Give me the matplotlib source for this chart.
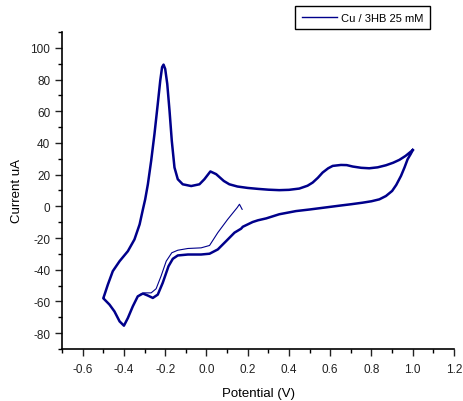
import matplotlib.pyplot as plt
from matplotlib.ticker import MultipleLocator

plt.rcParams['font.family'] = ['Liberation Sans', 'DejaVu Sans']
plt.rcParams['axes.unicode_minus'] = False

# --- dados lidos do voltamograma ---
# primeira varredura (linha fina), de 0.173 V para o catodo
pot_ini = [0.173, 0.160, 0.149, 0.103, 0.055, 0.015, -0.026, -0.090, -0.139, -0.168,
           -0.195, -0.220, -0.244, -0.268, -0.300, -0.324]
cor_ini = [-1.9, 1.3, -0.8, -8.2, -16.6, -24.7, -26.2, -26.6, -27.7, -29.3,
           -34.6, -44.0, -52.0, -54.6, -54.6, -55.7]

# ciclo completo (linha grossa), comeca no vertice de 1.0 V
pot_ciclo = [1.000, 0.990, 0.975, 0.960, 0.943, 0.920, 0.900, 0.870, 0.838, 0.800,
             0.757, 0.700, 0.650, 0.596, 0.500, 0.434, 0.353, 0.290, 0.250, 0.224,
             0.176, 0.168, 0.136, 0.095, 0.055, 0.015, -0.026, -0.090, -0.139, -0.163,
             -0.184, -0.212, -0.236, -0.260, -0.284, -0.308, -0.333, -0.357, -0.381,
             -0.400, -0.421, -0.446, -0.470, -0.497, -0.500,
             -0.494, -0.478, -0.454, -0.421, -0.381, -0.349, -0.324, -0.308, -0.297,
             -0.284, -0.268, -0.252, -0.236, -0.224, -0.215, -0.208, -0.200, -0.190,
             -0.179, -0.168, -0.155, -0.139, -0.115, -0.074, -0.034, -0.010, 0.019,
             0.047, 0.084, 0.111, 0.150, 0.200, 0.250, 0.300, 0.353, 0.400, 0.450,
             0.490, 0.515, 0.540, 0.563, 0.590, 0.612, 0.652, 0.680, 0.709, 0.750,
             0.789, 0.830, 0.870, 0.905, 0.935, 0.965, 1.000]
cor_ciclo = [35.5, 33.0, 29.7, 24.5, 19.2, 13.5, 9.7, 6.5, 4.4, 3.2,
             2.3, 1.3, 0.5, -0.4, -2.0, -3.0, -5.0, -7.6, -8.8, -9.9,
             -12.9, -14.1, -16.6, -22.0, -27.2, -29.9, -30.4, -30.4, -31.0, -33.1,
             -37.8, -48.3, -55.7, -57.8, -56.3, -55.0, -56.8, -63.1, -70.5,
             -75.3, -72.6, -66.3, -62.0, -58.4, -58.0,
             -55.7, -49.4, -40.9, -34.6, -28.3, -20.9, -11.4, -1.9, 4.4,
             13.9, 28.7, 45.6, 64.6, 79.3, 87.8, 89.4, 86.7, 77.2,
             60.3, 41.3, 24.5, 17.1, 13.9, 12.8, 13.9, 17.1, 22.0,
             20.3, 16.0, 13.9, 12.5, 11.6, 11.0, 10.5, 10.2, 10.4, 11.2,
             13.0, 15.0, 18.0, 21.3, 24.0, 25.5, 26.1, 26.0, 25.1, 24.3,
             24.0, 24.6, 25.9, 27.5, 29.3, 31.8, 35.5]

legenda = 'Cu / 3HB 25 mM'
cor = '#00008B'

fig = plt.figure(figsize=(4.63, 4.02), dpi=100)
ax = fig.add_axes([0.134, 0.1294, 0.8466, 0.7886])

ax.plot(pot_ciclo, cor_ciclo, color=cor, lw=1.8, solid_joinstyle='round', label=legenda)
ax.plot(pot_ini, cor_ini, color=cor, lw=0.8, solid_joinstyle='round')

ax.set_xlim(-0.7, 1.2)
ax.set_ylim(-90, 110)
ax.xaxis.set_minor_locator(MultipleLocator(0.1))
ax.yaxis.set_minor_locator(MultipleLocator(10))
ax.set_xticks([-0.6, -0.4, -0.2, 0.0, 0.2, 0.4, 0.6, 0.8, 1.0, 1.2])
ax.set_xticklabels(['-0.6', '-0.4', '-0.2', '0.0', '0.2', '0.4', '0.6', '0.8', '1.0', '1.2'])
ax.set_yticks([-80, -60, -40, -20, 0, 20, 40, 60, 80, 100])

for s in ['top', 'right']:
    ax.spines[s].set_visible(False)
for s in ['left', 'bottom']:
    ax.spines[s].set_linewidth(1.2)

ax.tick_params(which='major', direction='out', length=5, width=1, labelsize=8.5, colors='#222222')
ax.tick_params(which='minor', direction='out', length=3, width=1)
ax.tick_params(axis='x', pad=5)

ax.set_xlabel('Potential (V)', fontsize=9.5, labelpad=9)
ax.set_ylabel('Current uA', fontsize=9.5, labelpad=5)

fig.legend(loc='upper left', bbox_to_anchor=(0.637, 0.983), borderaxespad=0,
           fontsize=8, frameon=True, fancybox=False, edgecolor='black', framealpha=1,
           handlelength=3.2, borderpad=0.6, handletextpad=0.35)
leg = fig.legends[0]
leg.get_frame().set_linewidth(1.0)
leg.get_lines()[0].set_linewidth(1.0)

fig.savefig('out.png', dpi=100)
